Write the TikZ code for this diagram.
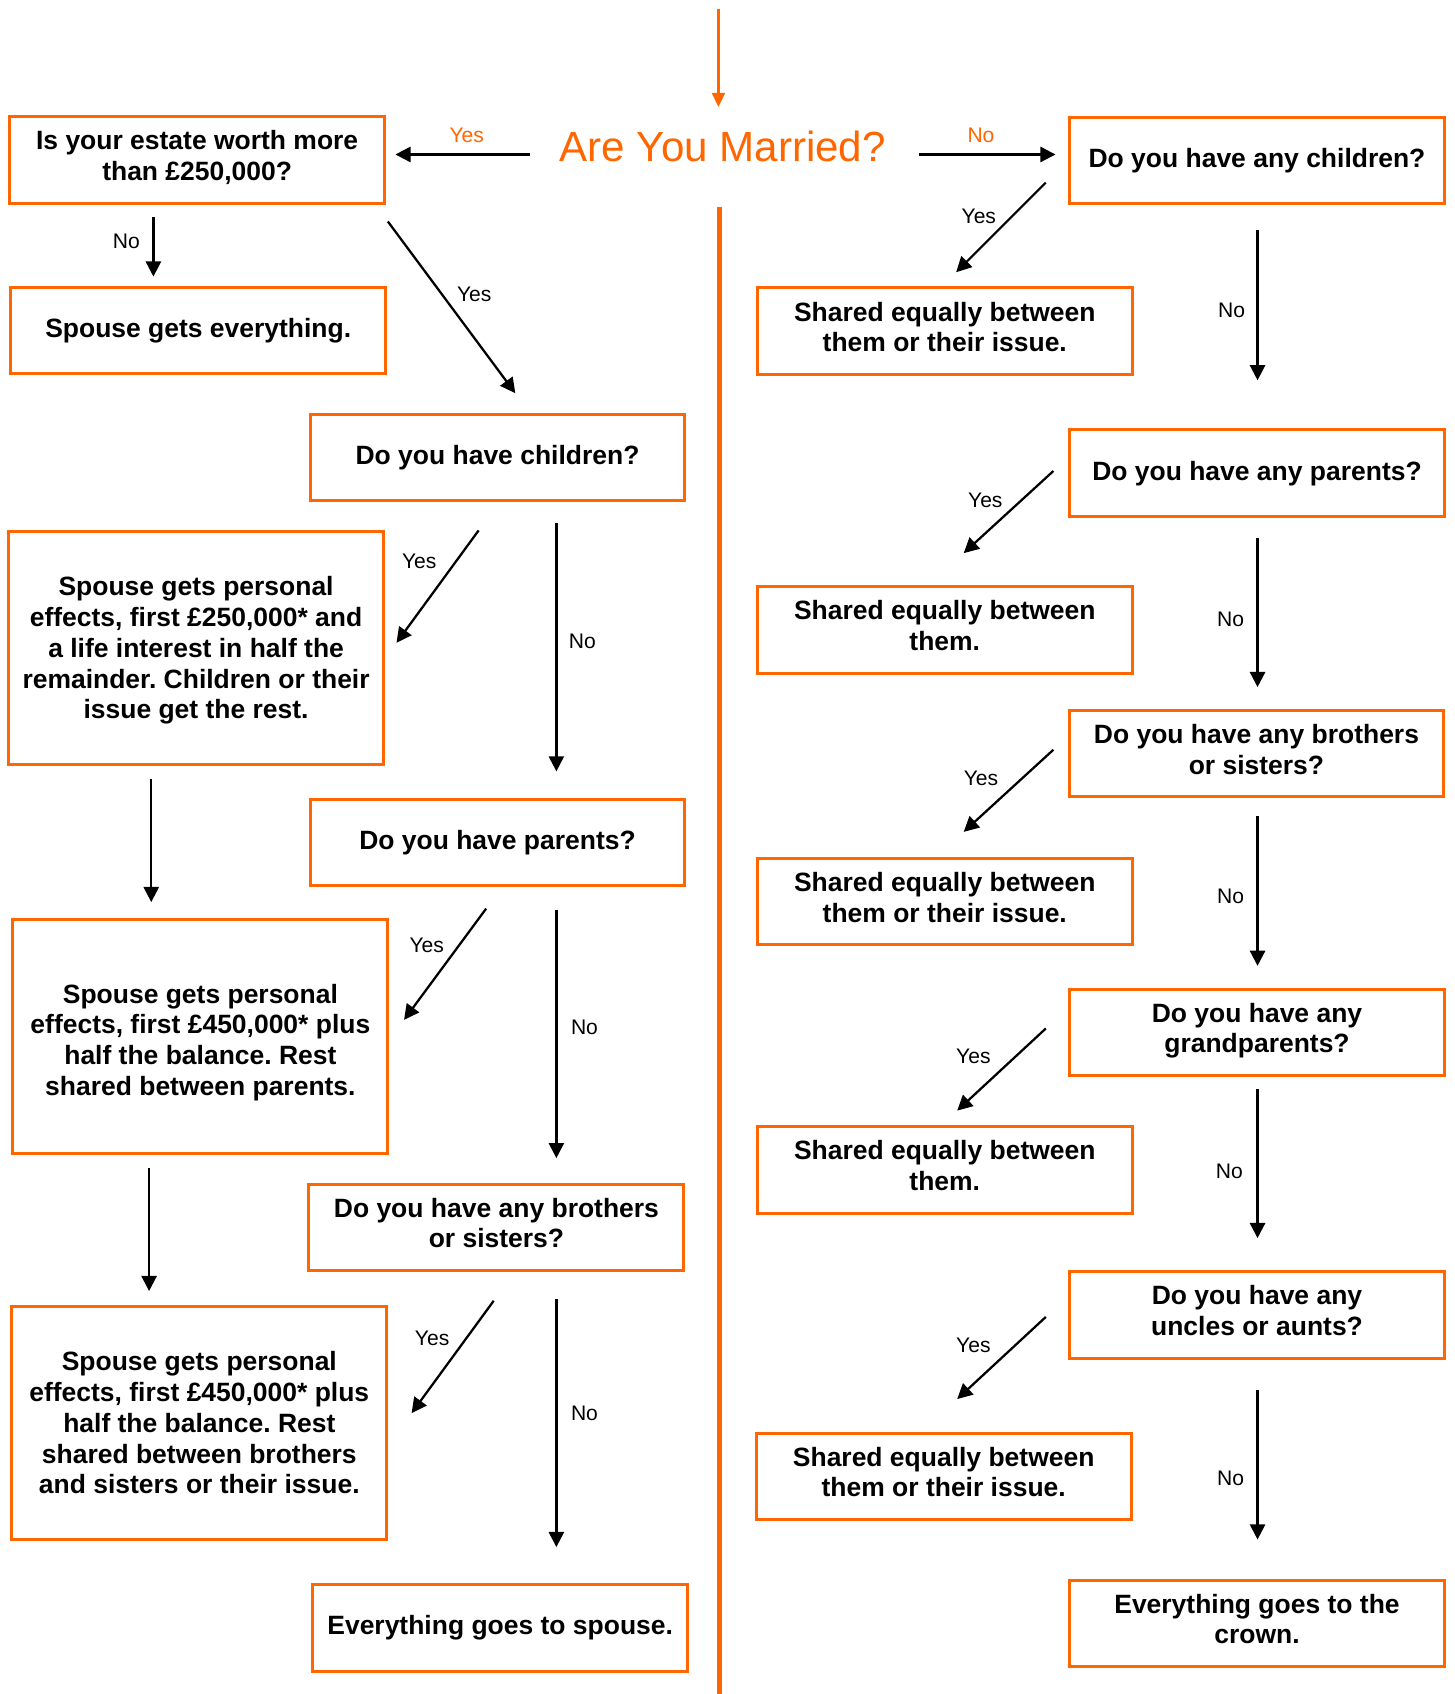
\documentclass[tikz,border=0pt]{standalone}
\usepackage{fontspec}
\setmainfont{Liberation Sans}
\usetikzlibrary{arrows.meta}
\definecolor{wor}{RGB}{255,102,0}
\frenchspacing
\newcommand\farrow[3]{\coordinate (#1a) at (#2); \coordinate (#1b) at (#3); \draw[arr] (#1a) -- (#1b);}
\begin{document}
\begin{tikzpicture}[x=1pt,y=-1pt,
  box/.style={draw=wor, line width=2.8pt, minimum width=347pt, minimum height=80pt, align=center,
    font=\bfseries\fontsize{24.5}{28.5}\selectfont\frenchspacing, inner sep=0pt},
  two/.style={text depth=8pt},
  tall/.style={minimum height=216pt},
  arr/.style={line width=2.1pt, -{Triangle[length=14pt,width=14pt]}},
  lbl/.style={font=\fontsize{19.5}{22}\selectfont, inner sep=0pt},
  olbl/.style={lbl, text=wor}]
\useasboundingbox (0,0) rectangle (1346,1568);
% title and trunk
\coordinate (top) at (665,8);
\coordinate (topend) at (665,99);
\draw[wor, line width=2pt, -{Triangle[length=13pt,width=12pt]}] (top) -- (topend);
\node[text=wor, font=\fontsize{39}{44}\selectfont, inner sep=0pt] (married) at (669,136) {Are You Married?};
\coordinate (trunktop) at (666,192);
\coordinate (trunkbot) at (666,1568);
\draw[wor, line width=5pt] (trunktop) -- (trunkbot);
% left boxes
\node[box,two] (b1) at (182.5,148) {Is your estate worth more\\than £250,000?};
\node[box] (b2) at (183.5,306) {Spouse gets everything.};
\node[box] (b3) at (460.5,423.5) {Do you have children?};
\node[box,tall,text height=136pt] (b4) at (181.5,600) {Spouse gets personal\\effects, first £250,000* and\\a life interest in half the\\remainder. Children or their\\issue get the rest.};
\node[box] (b5) at (460.5,780) {Do you have parents?};
\node[box,tall,text height=114pt] (b6) at (185.5,959.5) {Spouse gets personal\\effects, first £450,000* plus\\half the balance. Rest\\shared between parents.};
\node[box,two] (b7) at (459.5,1136) {Do you have any brothers\\or sisters?};
\node[box,tall] (b8) at (184.5,1317) {Spouse gets personal\\effects, first £450,000* plus\\half the balance. Rest\\shared between brothers\\and sisters or their issue.};
\node[box] (b9) at (463,1507) {Everything goes to spouse.};
% right boxes
\node[box] (r1) at (1163.5,148.5) {Do you have any children?};
\node[box,two] (r2) at (874.5,306.5) {Shared equally between\\them or their issue.};
\node[box] (r3) at (1163.5,438) {Do you have any parents?};
\node[box,two] (r4) at (874.5,583) {Shared equally between\\them.};
\node[box,two] (r5) at (1163,697.5) {Do you have any brothers\\or sisters?};
\node[box,two] (r6) at (874.5,834.5) {Shared equally between\\them or their issue.};
\node[box,two] (r7) at (1163.5,955.5) {Do you have any\\grandparents?};
\node[box,two] (r8) at (874.5,1083) {Shared equally between\\them.};
\node[box,two] (r9) at (1163.5,1217) {Do you have any\\uncles or aunts?};
\node[box,two] (r10) at (873.5,1366.5) {Shared equally between\\them or their issue.};
\node[box,two] (r11) at (1163.5,1502.5) {Everything goes to the\\crown.};
% married arrows
\farrow{my}{491,143}{366,143}
\node[olbl] (myl) at (432,125) {Yes};
\farrow{mn}{851,143}{977,143}
\node[olbl] (mnl) at (908,125) {No};
% left arrows
\farrow{a1}{142,201}{142,256} \node[lbl] (a1l) at (117,223) {No};
\farrow{a2}{359,205}{477,364} \node[lbl] (a2l) at (439,272) {Yes};
\farrow{a3}{443,491}{367,595} \node[lbl] (a3l) at (388,520) {Yes};
\farrow{a4}{515,484}{515,714} \node[lbl] (a4l) at (539,594) {No};
\farrow{a5}{140,721}{140,835}
\farrow{a6}{450,841}{374,944} \node[lbl] (a6l) at (395,875) {Yes};
\farrow{a7}{515,842}{515,1072} \node[lbl] (a7l) at (541,951) {No};
\farrow{a8}{138,1081}{138,1195}
\farrow{a9}{457,1204}{381,1308} \node[lbl] (a9l) at (400,1239) {Yes};
\farrow{a10}{515,1202}{515,1432} \node[lbl] (a10l) at (541,1308) {No};
% right arrows
\farrow{c1}{968,169}{885,252} \node[lbl] (c1l) at (906,200) {Yes};
\farrow{c2}{1164,213}{1164,352} \node[lbl] (c2l) at (1140,287) {No};
\farrow{c3}{975,436}{892,512} \node[lbl] (c3l) at (912,463) {Yes};
\farrow{c4}{1164,498}{1164,636} \node[lbl] (c4l) at (1139,573) {No};
\farrow{c5}{975,694}{892,770} \node[lbl] (c5l) at (908,720) {Yes};
\farrow{c6}{1164,755}{1164,894} \node[lbl] (c6l) at (1139,830) {No};
\farrow{c7}{968,952}{886,1028} \node[lbl] (c7l) at (901,978) {Yes};
\farrow{c8}{1164,1008}{1164,1146} \node[lbl] (c8l) at (1138,1084) {No};
\farrow{c9}{968,1219}{886,1295} \node[lbl] (c9l) at (901,1245) {Yes};
\farrow{c10}{1164,1287}{1164,1425} \node[lbl] (c10l) at (1139,1368) {No};
\end{tikzpicture}
\end{document}
